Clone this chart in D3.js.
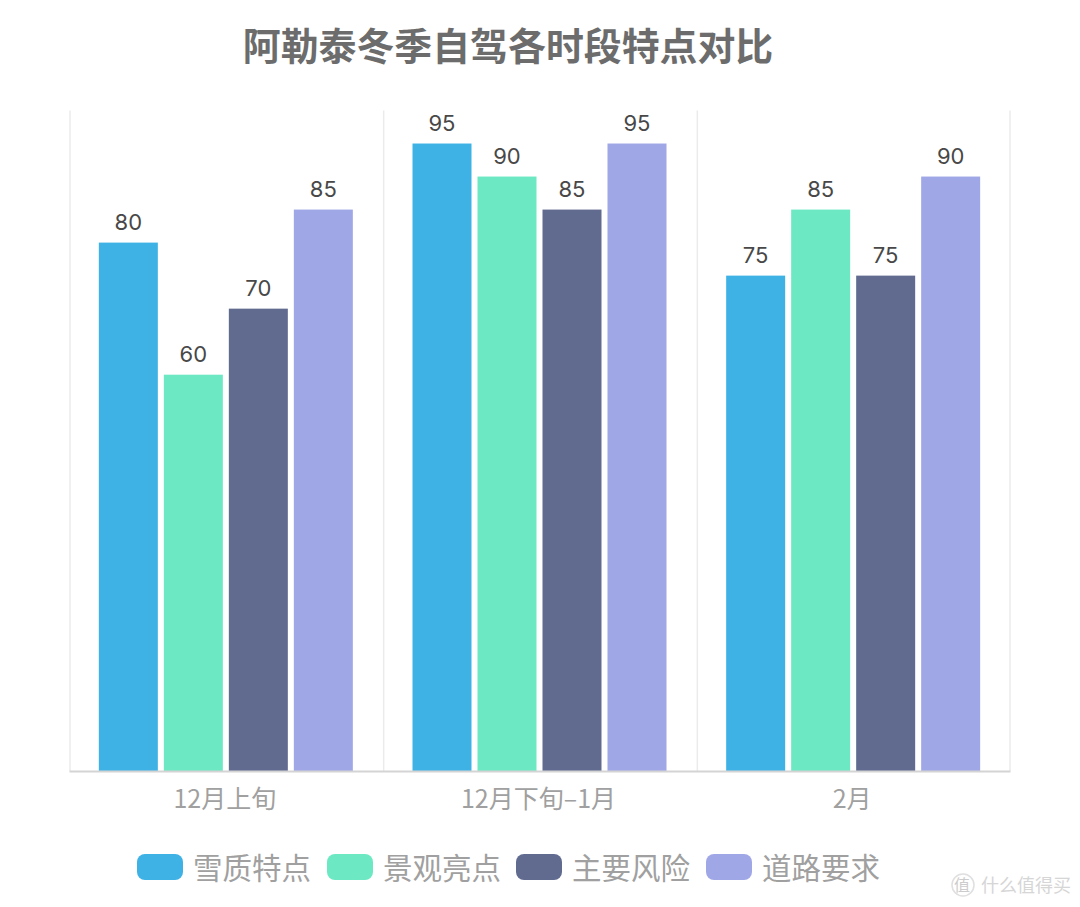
<!DOCTYPE html>
<html lang="zh">
<head>
<meta charset="utf-8">
<script src="https://cdn.jsdelivr.net/npm/d3@7/dist/d3.min.js"></script>
<style>
  html, body { margin: 0; padding: 0; background: #fff; }
  svg { display: block; }
  text { font-family: "Noto Sans CJK SC", "Noto Sans", sans-serif; }
  .num { font-family: Inter, "Liberation Sans", Arial, sans-serif; }
</style>
</head>
<body>
<div id="chart"></div>
<script>
const chartTitle = "阿勒泰冬季自驾各时段特点对比";
const periods = ["12月上旬", "12月下旬–1月", "2月"];
const seriesNames = ["雪质特点", "景观亮点", "主要风险", "道路要求"];
const snowQuality = [80, 95, 75];
const scenery = [60, 90, 85];
const risks = [70, 85, 75];
const roadNeeds = [85, 95, 90];
const seriesColors = ["#3eb2e5", "#6ce9c2", "#616b90", "#a0a7e6"];

const allSeries = [snowQuality, scenery, risks, roadNeeds];
const width = 1080, height = 907;
const plot = { left: 69, right: 1010, top: 110.5, bottom: 771 };

const svg = d3.select("#chart").append("svg")
  .attr("width", width).attr("height", height);

const x0 = d3.scaleBand().domain(periods).range([plot.left, plot.right]);
const x1 = d3.scaleBand().domain(d3.range(seriesNames.length))
  .range([0, x0.bandwidth()]).paddingInner(6 / 65).paddingOuter(0.459);
const y = d3.scaleLinear().domain([0, 100]).range([plot.bottom, plot.top]);

svg.append("text")
  .attr("x", 508).attr("y", 59.5)
  .attr("text-anchor", "middle")
  .attr("font-size", 37.9).attr("font-weight", 700)
  .attr("fill", "#6c6c6c")
  .text(chartTitle);

// Vertical separators at each band edge
const edges = periods.map(p => x0(p) + 1).concat(plot.right);
svg.append("g").selectAll("line").data(edges).join("line")
  .attr("x1", d => d).attr("x2", d => d)
  .attr("y1", plot.top).attr("y2", plot.bottom)
  .attr("stroke", "#ebebeb").attr("stroke-width", 1.5);

// Grouped bars with their value labels
const groups = svg.append("g").selectAll("g").data(periods).join("g")
  .attr("transform", p => `translate(${x0(p)},0)`);

groups.selectAll("rect")
  .data((p, i) => allSeries.map((s, k) => ({ k, v: s[i] })))
  .join("rect")
  .attr("x", d => x1(d.k)).attr("width", x1.bandwidth())
  .attr("y", d => y(d.v)).attr("height", d => y(0) - y(d.v))
  .attr("fill", d => seriesColors[d.k]);

groups.selectAll("text")
  .data((p, i) => allSeries.map((s, k) => ({ k, v: s[i] })))
  .join("text")
  .attr("class", "num")
  .attr("x", d => x1(d.k) + x1.bandwidth() / 2)
  .attr("y", d => y(d.v) - 13)
  .attr("text-anchor", "middle")
  .attr("font-size", 22)
  .attr("fill", "#484848")
  .text(d => d.v);

// Category axis
const axis = svg.append("g")
  .attr("transform", `translate(0,${plot.bottom})`)
  .call(d3.axisBottom(x0).tickSize(0).tickPadding(19));
axis.select(".domain").attr("stroke", "#d4d4d4").attr("stroke-width", 2);
axis.selectAll("text")
  .attr("font-size", 25)
  .attr("font-family", '"Noto Sans CJK SC", sans-serif')
  .attr("fill", "#a0a0a0")
  .attr("dx", -1);

// Legend
const legendSwatchX = [137, 327, 516, 706];
const legend = svg.append("g").selectAll("g").data(seriesNames).join("g")
  .attr("transform", (d, i) => `translate(${legendSwatchX[i]},854)`);
legend.append("rect")
  .attr("width", 46).attr("height", 26).attr("rx", 8)
  .attr("fill", (d, i) => seriesColors[i]);
legend.append("text")
  .attr("x", 56).attr("y", 25)
  .attr("font-size", 29.5).attr("fill", "#a0a0a0")
  .text(d => d);

// Site mark in the lower right corner
const mark = svg.append("g").attr("opacity", 0.8);
mark.append("circle")
  .attr("cx", 963).attr("cy", 885).attr("r", 11)
  .attr("fill", "none").attr("stroke", "#d8d8d8").attr("stroke-width", 1.5);
mark.append("text")
  .attr("x", 962).attr("y", 891).attr("text-anchor", "middle")
  .attr("font-size", 16).attr("fill", "#c0c0c0").text("值");
mark.append("text")
  .attr("x", 981).attr("y", 892)
  .attr("font-size", 18).attr("fill", "#cccccc").text("什么值得买");
</script>
</body>
</html>
